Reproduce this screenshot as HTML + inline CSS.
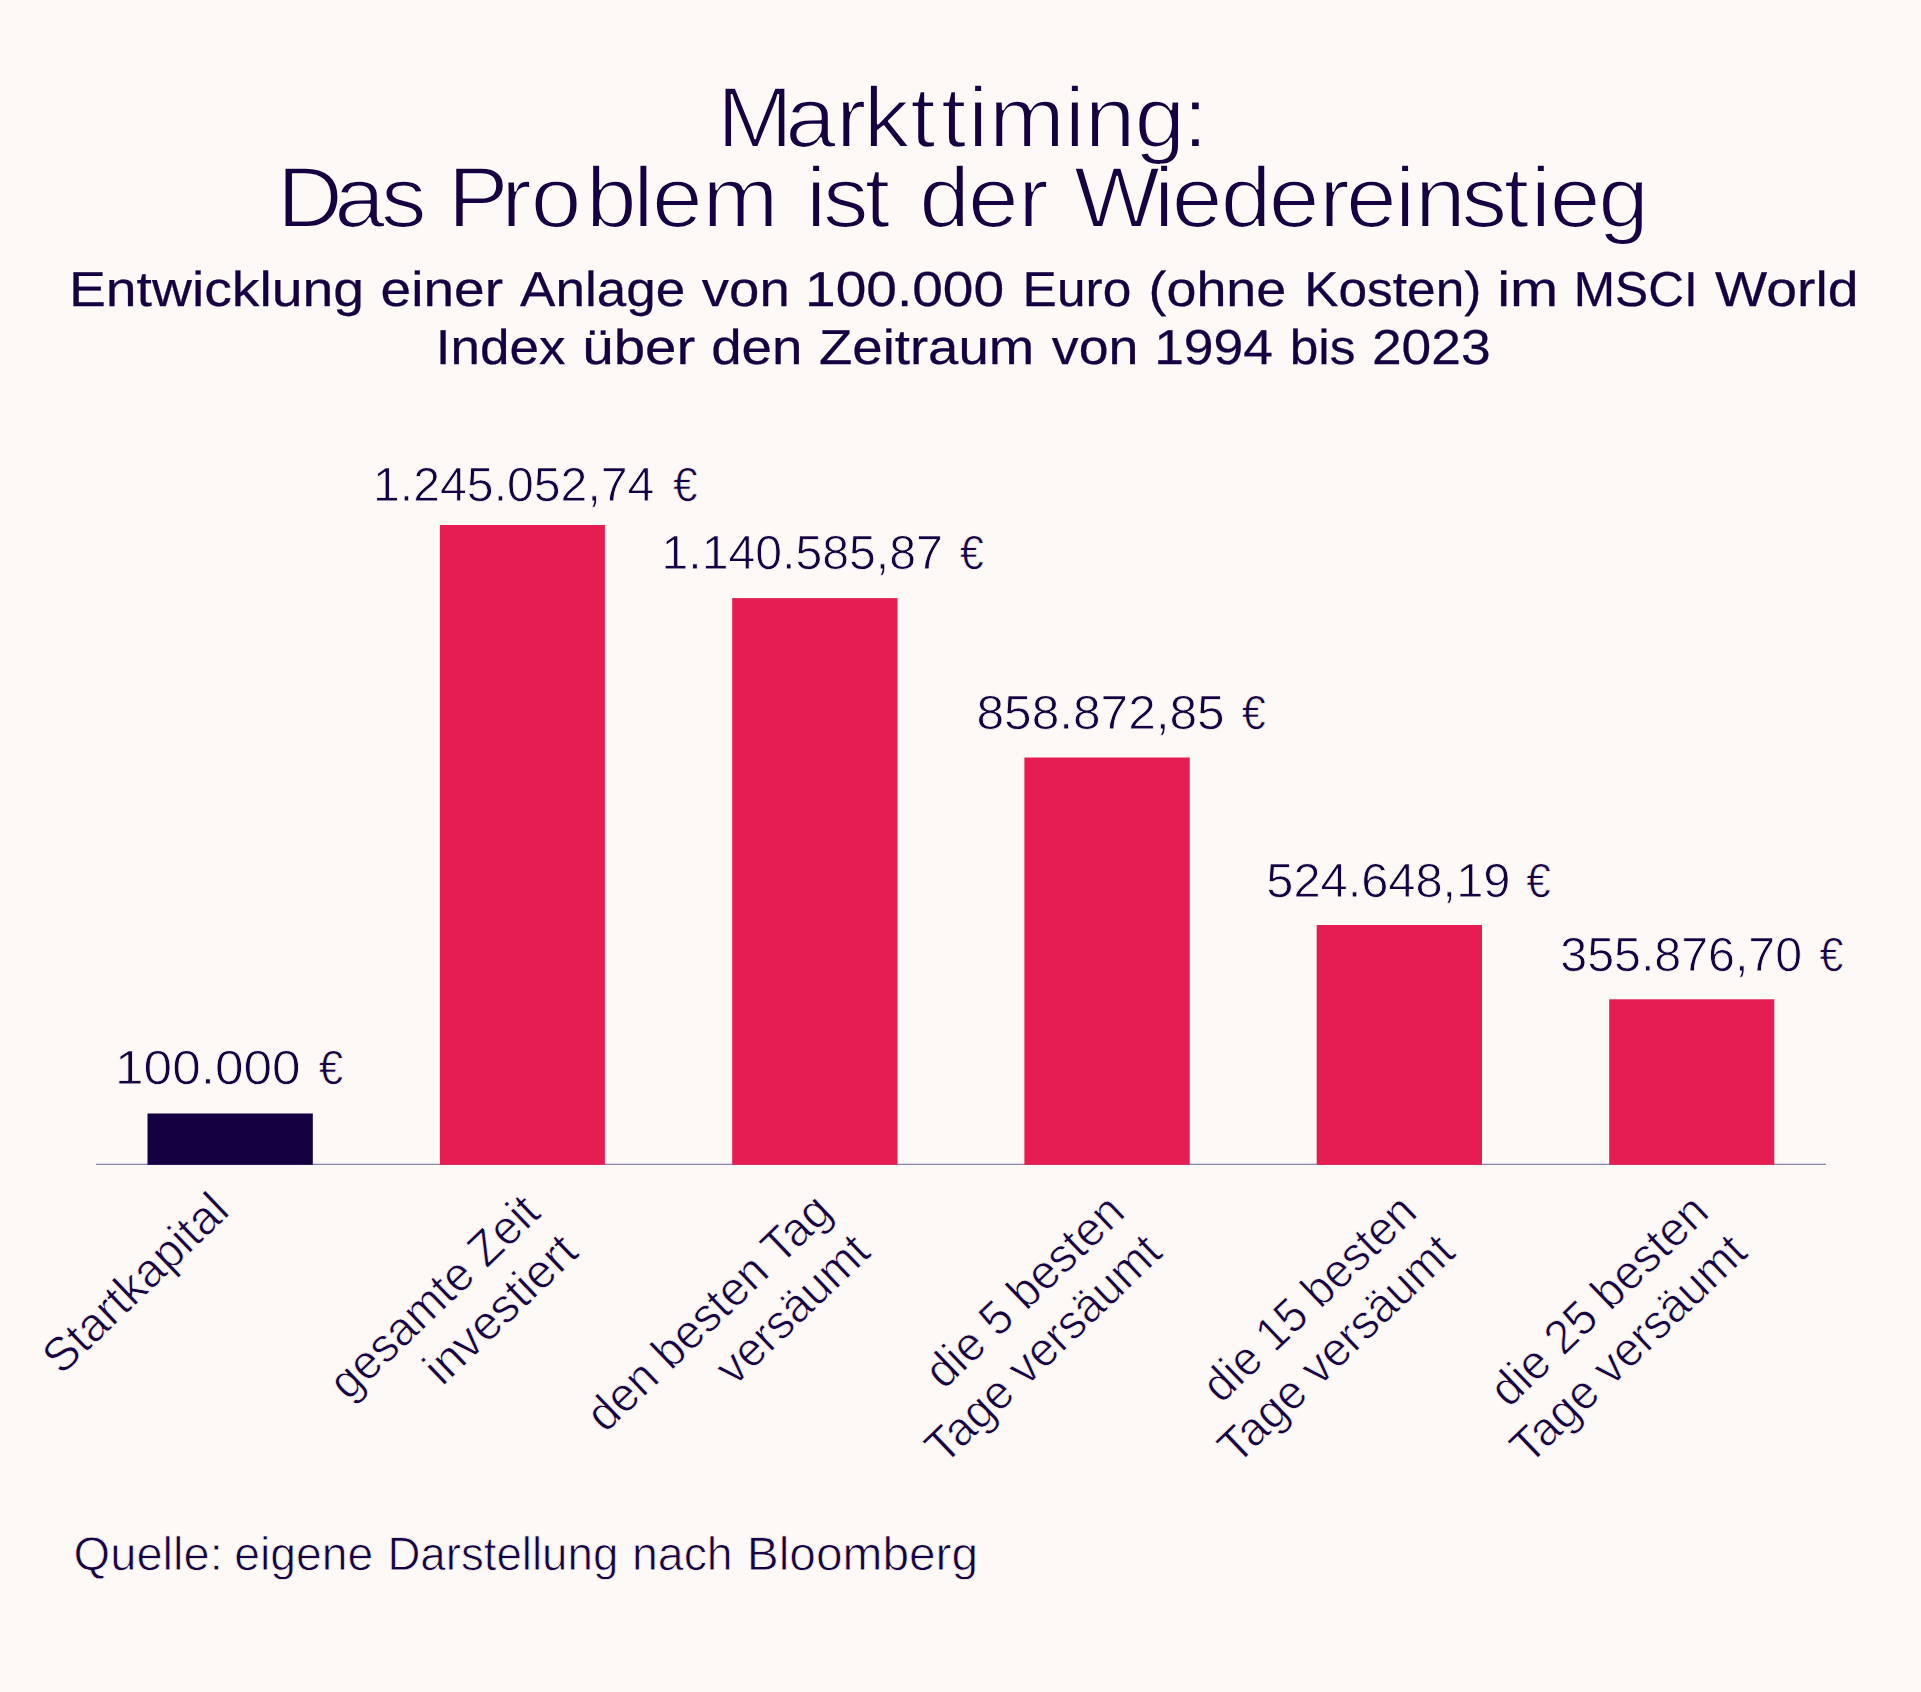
<!DOCTYPE html>
<html lang="de">
<head>
<meta charset="utf-8">
<title>Markttiming: Das Problem ist der Wiedereinstieg</title>
<style>
html,body{margin:0;padding:0;background:#fcf9f6;overflow:hidden;}
svg{display:block;}
text{font-family:'Liberation Sans', sans-serif;fill:#150041;stroke:#fcf9f6;stroke-linejoin:round;text-rendering:geometricPrecision;}
.t1{font-size:86.0px;stroke-width:1.9px;}
.t2{font-size:49.1px;stroke-width:0.25px;stroke:#150041;}
.t3{font-size:48.0px;stroke-width:0.8px;}
.t4{font-size:47.1px;stroke-width:0.8px;}
</style>
</head>
<body>
<svg width="1921" height="1692" viewBox="0 0 1921 1692">
<rect x="0" y="0" width="1921" height="1692" fill="#fcf9f6"/>
<g id="bars">
<rect x="96" y="1163.7" width="1730" height="1.3" fill="#8f87ab"/>
<rect x="147.5" y="1113.5" width="165.3" height="51.3" fill="#150041"/>
<rect x="439.9" y="525.0" width="165.0" height="639.8" fill="#e51d50"/>
<rect x="732.2" y="598.1" width="165.3" height="566.7" fill="#e51d50"/>
<rect x="1024.4" y="757.5" width="165.3" height="407.3" fill="#e51d50"/>
<rect x="1316.7" y="925.0" width="165.3" height="239.8" fill="#e51d50"/>
<rect x="1609.2" y="999.3" width="165.1" height="165.5" fill="#e51d50"/>
</g>
<g id="title" transform="scale(1.06 1)">
<text class="t1" y="147"><tspan x="676.4 740.8 788.6 814.8 858.8 887.7 913.1 933.0 1004.6 1023.4 1070.4 1115.8">Markttiming:</tspan></text>
<text class="t1" y="227"><tspan x="261.4 315.3 359.4">Das</tspan> <tspan x="422.3 472.9 500.8 552.9 597.3 615.2 662.7">Problem</tspan> <tspan x="760.3 776.4 815.9">ist</tspan> <tspan x="867.3 913.1 960.5">der</tspan> <tspan x="1013.1 1088.6 1105.5 1151.7 1196.9 1244.5 1269.8 1316.0 1335.0 1378.8 1418.6 1444.1 1462.0 1507.8">Wiedereinstieg</tspan></text>
</g>
<g id="subtitle">
<text class="t2" y="306"><tspan x="68.92" textLength="295.25" lengthAdjust="spacingAndGlyphs">Entwicklung</tspan> <tspan x="380.58" textLength="122.38" lengthAdjust="spacingAndGlyphs">einer</tspan> <tspan x="520.12" textLength="165.16" lengthAdjust="spacingAndGlyphs">Anlage</tspan> <tspan x="701.83" textLength="87.91" lengthAdjust="spacingAndGlyphs">von</tspan> <tspan x="805.06" textLength="198.98" lengthAdjust="spacingAndGlyphs">100.000</tspan> <tspan x="1022.64" textLength="108.60" lengthAdjust="spacingAndGlyphs">Euro</tspan> <tspan x="1148.53" textLength="137.77" lengthAdjust="spacingAndGlyphs">(ohne</tspan> <tspan x="1304.24" textLength="177.10" lengthAdjust="spacingAndGlyphs">Kosten)</tspan> <tspan x="1497.29" textLength="60.99" lengthAdjust="spacingAndGlyphs">im</tspan> <tspan x="1573.78" textLength="124.07" lengthAdjust="spacingAndGlyphs">MSCI</tspan> <tspan x="1715.12" textLength="143.34" lengthAdjust="spacingAndGlyphs">World</tspan></text>
<text class="t2" y="364"><tspan x="435.81" textLength="129.58" lengthAdjust="spacingAndGlyphs">Index</tspan> <tspan x="582.38" textLength="112.90" lengthAdjust="spacingAndGlyphs">über</tspan> <tspan x="711.20" textLength="91.24" lengthAdjust="spacingAndGlyphs">den</tspan> <tspan x="819.01" textLength="215.28" lengthAdjust="spacingAndGlyphs">Zeitraum</tspan> <tspan x="1051.83" textLength="86.57" lengthAdjust="spacingAndGlyphs">von</tspan> <tspan x="1154.16" textLength="118.83" lengthAdjust="spacingAndGlyphs">1994</tspan> <tspan x="1289.68" textLength="65.82" lengthAdjust="spacingAndGlyphs">bis</tspan> <tspan x="1371.95" textLength="118.64" lengthAdjust="spacingAndGlyphs">2023</tspan></text>
</g>
<g id="values">
<text class="t3" y="1084"><tspan x="115.09" textLength="185.42" lengthAdjust="spacingAndGlyphs">100.000</tspan> <tspan x="318.80" textLength="24.32" lengthAdjust="spacingAndGlyphs">€</tspan></text>
<text class="t3" y="501"><tspan x="373.09" textLength="281.31" lengthAdjust="spacingAndGlyphs">1.245.052,74</tspan> <tspan x="673.10" textLength="24.52" lengthAdjust="spacingAndGlyphs">€</tspan></text>
<text class="t3" y="569"><tspan x="661.59" textLength="281.21" lengthAdjust="spacingAndGlyphs">1.140.585,87</tspan> <tspan x="959.80" textLength="24.03" lengthAdjust="spacingAndGlyphs">€</tspan></text>
<text class="t3" y="729"><tspan x="976.53" textLength="248.12" lengthAdjust="spacingAndGlyphs">858.872,85</tspan> <tspan x="1241.80" textLength="23.93" lengthAdjust="spacingAndGlyphs">€</tspan></text>
<text class="t3" y="897"><tspan x="1266.28" textLength="244.14" lengthAdjust="spacingAndGlyphs">524.648,19</tspan> <tspan x="1526.30" textLength="24.52" lengthAdjust="spacingAndGlyphs">€</tspan></text>
<text class="t3" y="971"><tspan x="1560.29" textLength="241.81" lengthAdjust="spacingAndGlyphs">355.876,70</tspan> <tspan x="1819.60" textLength="23.83" lengthAdjust="spacingAndGlyphs">€</tspan></text>
</g>
<g id="categories">
<text class="t3" transform="translate(229.0 1215.1) rotate(-43.8)" x="-232.36" y="0.40" textLength="235.37" lengthAdjust="spacingAndGlyphs">Startkapital</text>
<text class="t3" transform="translate(541.8 1215.4) rotate(-43.8)" x="-268.84" y="0.40" textLength="269.57" lengthAdjust="spacingAndGlyphs">gesamte Zeit</text>
<text class="t3" transform="translate(579.7 1254.8) rotate(-43.8)" x="-190.89" y="0.40" textLength="191.63" lengthAdjust="spacingAndGlyphs">investiert</text>
<text class="t3" transform="translate(831.9 1216.2) rotate(-43.8)" x="-314.34" y="0.40" textLength="317.35" lengthAdjust="spacingAndGlyphs">den besten Tag</text>
<text class="t3" transform="translate(871.7 1254.8) rotate(-43.8)" x="-190.90" y="0.40" textLength="191.63" lengthAdjust="spacingAndGlyphs">versäumt</text>
<text class="t3" transform="translate(1124.8 1216.6) rotate(-43.8)" x="-251.35" y="0.40" textLength="254.37" lengthAdjust="spacingAndGlyphs">die 5 besten</text>
<text class="t3" transform="translate(1163.6 1255.0) rotate(-43.8)" x="-304.37" y="0.40" textLength="305.09" lengthAdjust="spacingAndGlyphs">Tage versäumt</text>
<text class="t3" transform="translate(1416.8 1216.6) rotate(-43.8)" x="-271.30" y="0.40" textLength="274.27" lengthAdjust="spacingAndGlyphs">die 15 besten</text>
<text class="t3" transform="translate(1456.4 1255.0) rotate(-43.8)" x="-304.37" y="0.40" textLength="305.09" lengthAdjust="spacingAndGlyphs">Tage versäumt</text>
<text class="t3" transform="translate(1708.9 1216.6) rotate(-43.8)" x="-277.65" y="0.40" textLength="280.67" lengthAdjust="spacingAndGlyphs">die 25 besten</text>
<text class="t3" transform="translate(1748.7 1255.0) rotate(-43.8)" x="-304.37" y="0.40" textLength="305.09" lengthAdjust="spacingAndGlyphs">Tage versäumt</text>
</g>
<g id="source">
<text class="t4" y="1570"><tspan x="73.60" textLength="149.18" lengthAdjust="spacingAndGlyphs">Quelle:</tspan> <tspan x="234.34" textLength="138.94" lengthAdjust="spacingAndGlyphs">eigene</tspan> <tspan x="387.39" textLength="230.93" lengthAdjust="spacingAndGlyphs">Darstellung</tspan> <tspan x="632.04" textLength="100.61" lengthAdjust="spacingAndGlyphs">nach</tspan> <tspan x="746.85" textLength="231.27" lengthAdjust="spacingAndGlyphs">Bloomberg</tspan></text>
</g>
</svg>
</body>
</html>
